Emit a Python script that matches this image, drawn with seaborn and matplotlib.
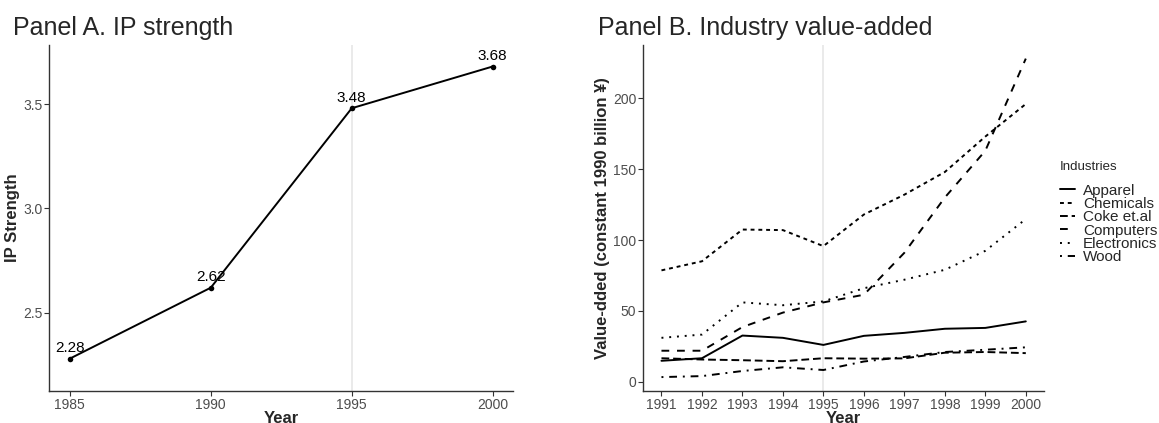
import matplotlib
matplotlib.use("Agg")
import matplotlib.pyplot as plt
from matplotlib.lines import Line2D
import seaborn as sns
import pandas as pd

# Panel A: IP strength by year
ip_years = [1985, 1990, 1995, 2000]
ip_strength = [2.28, 2.62, 3.48, 3.68]

# Panel B: industry value-added (constant 1990 billion yen)
va_years = [1991, 1992, 1993, 1994, 1995, 1996, 1997, 1998, 1999, 2000]
apparel = [14.8, 16.6, 32.6, 31.0, 26.0, 32.4, 34.5, 37.4, 38.0, 42.6]
chemicals = [78.6, 85.0, 107.4, 107.0, 95.7, 118.0, 132.0, 148.0, 173.0, 196.0]
coke = [16.6, 15.7, 15.2, 14.5, 16.6, 16.3, 16.5, 20.5, 21.0, 20.2]
computers = [21.9, 21.9, 38.6, 48.8, 56.0, 61.4, 91.0, 130.0, 163.0, 228.0]
electronics = [31.0, 33.3, 56.0, 54.0, 56.7, 66.0, 72.0, 79.0, 92.4, 114.8]
wood = [3.3, 4.0, 7.6, 10.2, 8.3, 14.3, 17.5, 21.0, 22.6, 24.3]
industries = ["Apparel", "Chemicals", "Coke et.al", "Computers", "Electronics", "Wood"]

sns.set_theme(style="white")
plt.rcParams["font.family"] = ["Liberation Sans", "DejaVu Sans"]

ip_df = pd.DataFrame({"Year": ip_years, "IP Strength": ip_strength})
va_df = pd.DataFrame({
    "Year": va_years * 6,
    "Value": apparel + chemicals + coke + computers + electronics + wood,
    "Industries": sum([[name] * len(va_years) for name in industries], []),
})

W, H = 1159, 423
fig = plt.figure(figsize=(W / 100, H / 100), dpi=100)
ax_a = fig.add_axes([0.0425, 0.0757, 0.4001, 0.8179])
ax_b = fig.add_axes([0.5550, 0.0757, 0.3458, 0.8179])

tick_col = "#4D4D4D"
line_kw = dict(color="black", linewidth=1.4)


def style_axes(ax):
    for side in ("top", "right"):
        ax.spines[side].set_visible(False)
    for side in ("left", "bottom"):
        ax.spines[side].set_color("#333333")
        ax.spines[side].set_linewidth(1.0)
    ax.tick_params(axis="both", which="both", direction="out", length=3.5,
                   width=0.8, color="#333333", labelcolor=tick_col,
                   labelsize=10, pad=1.5, bottom=True, left=True)
    ax.grid(False)


# Panel A
ax_a.axvline(1995, color="#E6E6E6", linewidth=1.2, zorder=0)
sns.lineplot(data=ip_df, x="Year", y="IP Strength", ax=ax_a, marker="o",
             markersize=4, markeredgewidth=0, **line_kw)
for xv, yv in zip(ip_years, ip_strength):
    ax_a.annotate(f"{yv:.2f}", (xv, yv), xytext=(0, 2.5), textcoords="offset points",
                  ha="center", va="bottom", fontsize=11, color="black")
ax_a.set_xlim(1984.27, 2000.72)
ax_a.set_ylim(2.125, 3.783)
ax_a.set_xticks([1985, 1990, 1995, 2000])
ax_a.set_yticks([2.5, 3.0, 3.5])
ax_a.set_yticklabels(["2.5", "3.0", "3.5"])
ax_a.set_xlabel("Year", fontsize=12, fontweight="bold", labelpad=-1)
ax_a.set_ylabel("IP Strength", fontsize=12, fontweight="bold", labelpad=2)
style_axes(ax_a)
fig.text(0.011, 0.918, "Panel A. IP strength", fontsize=18, ha="left", va="baseline")

# Panel B
dash_map = {
    "Apparel": "",
    "Chemicals": (2, 2),
    "Coke et.al": (4, 2),
    "Computers": (4, 4),
    "Electronics": (1, 3),
    "Wood": (1, 3, 4, 3),
}
ax_b.axvline(1995, color="#E6E6E6", linewidth=1.2, zorder=0)
sns.lineplot(data=va_df, x="Year", y="Value", style="Industries", style_order=industries,
             dashes=dash_map, ax=ax_b, legend=False, **line_kw)
ax_b.set_xlim(1990.55, 2000.45)
ax_b.set_ylim(-6.5, 237.6)
ax_b.set_xticks(va_years)
ax_b.set_yticks([0, 50, 100, 150, 200])
ax_b.set_xlabel("Year", fontsize=12, fontweight="bold", labelpad=-1)
ax_b.set_ylabel("Value-dded (constant 1990 billion \u00a5)", fontsize=12,
                fontweight="bold", labelpad=2)
style_axes(ax_b)
fig.text(0.516, 0.918, "Panel B. Industry value-added", fontsize=18, ha="left", va="baseline")

# Linetype key for the industries, laid out in figure pixels
key_x0, key_x1, key_tx = 1060, 1075, 1083
fig.text(key_x0 / W, 1 - 167 / H, "Industries", fontsize=9.5, ha="left", va="center")
for i, name in enumerate(industries):
    yc = 189.3 + 13.35 * i
    ln = Line2D([key_x0 / W, key_x1 / W], [1 - yc / H, 1 - yc / H],
                transform=fig.transFigure, **line_kw)
    if dash_map[name]:
        ln.set_dashes(dash_map[name])
    fig.add_artist(ln)
    fig.text(key_tx / W, 1 - (yc + 5.3) / H, name, fontsize=11, ha="left", va="baseline")

fig.savefig("out.png", dpi=100)
